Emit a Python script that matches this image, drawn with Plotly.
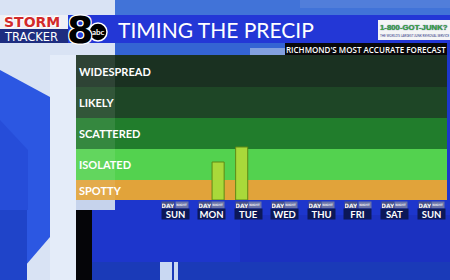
import plotly.graph_objects as go

W, H = 450, 280

# ---------------- data ----------------
days = ["SUN", "MON", "TUE", "WED", "THU", "FRI", "SAT", "SUN"]
periods = ["DAY", "NIGHT"]
band_names = ["SPOTTY", "ISOLATED", "SCATTERED", "LIKELY", "WIDESPREAD"]
band_edges = [0, 20, 51, 82, 113, 145]
band_colors = ["#e1a33a", "#53d24f", "#217d2c", "#1e4626", "#1a3121"]
bar_day_index = [1, 2]          # MON, TUE
bar_period = ["NIGHT", "DAY"]
bar_values = [38, 53]

title_text = "TIMING THE PRECIP"
tagline = "RICHMOND'S MOST ACCURATE FORECAST"

# ---------------- helpers ----------------
def px(x):
    return x / W

def py(y):
    return 1 - y / H

period_offset = {"DAY": -0.178, "NIGHT": 0.178}
bar_x = [d + period_offset[p] for d, p in zip(bar_day_index, bar_period)]

shapes = []
annotations = []

def rect(x0, y0, x1, y1, color, opacity=1.0, layer="below"):
    shapes.append(dict(type="rect", xref="paper", yref="paper",
                       x0=px(x0), x1=px(x1), y0=py(y1), y1=py(y0),
                       fillcolor=color, opacity=opacity, line=dict(width=0), layer=layer))

def poly(points, color, opacity=1.0, layer="below"):
    d = "M " + " L ".join(f"{px(x)},{py(y)}" for x, y in points) + " Z"
    shapes.append(dict(type="path", xref="paper", yref="paper", path=d,
                       fillcolor=color, opacity=opacity, line=dict(width=0), layer=layer))

def text(x, y, s, size, color, family="Lato", weight="normal", xanchor="left",
         bg=None, w=None, h=None, xref="paper", shadow=None):
    font = dict(size=size, color=color, family=family, weight=weight)
    if shadow:
        font["shadow"] = shadow
    a = dict(xref=xref, yref="paper", x=(px(x) if xref == "paper" else x), y=py(y),
             text=s, showarrow=False, xanchor=xanchor, yanchor="middle",
             font=font, borderpad=0)
    if bg:
        a["bgcolor"] = bg
    if w:
        a["width"] = w
    if h:
        a["height"] = h
    annotations.append(a)

# ---------------- background ----------------
rect(0, 0, 115, 280, "#d9e3f4")
rect(115, 0, 450, 15, "#4173d8")
rect(300, 0, 450, 8, "#5b86dc", opacity=0.6)
rect(115, 43, 290, 56, "#3464d3")
rect(250, 48, 290, 56, "#b8c8e8", opacity=0.6)
poly([(0, 70), (50, 97), (50, 237), (13, 280), (0, 280)], "#2c57e2")
poly([(0, 120), (28, 150), (28, 210), (0, 210)], "#2449d6", opacity=0.7)
rect(0, 210, 27, 280, "#1f44c9")
rect(50, 55, 76, 280, "#e4ecf9")
rect(92, 200, 450, 280, "#1d36cc")
rect(240, 215, 450, 262, "#1a2fb8", opacity=0.6)
rect(92, 262, 450, 280, "#1a3ab8")
rect(160, 262, 172, 280, "#c9d8f2")
rect(174, 262, 178, 280, "#c9d8f2")
rect(76, 200, 115, 210, "#c6d3ec")
rect(76, 210, 92, 280, "#050508")

# header bar
rect(0, 15, 450, 43, "#2337d6")
rect(0, 15, 68, 29, "#eef0f5")
rect(0, 29, 68, 43, "#1e2d80")
rect(285, 43, 447, 56, "#08080a")
rect(378, 20, 450, 40, "#f4f5f6")

# chart bands (y from data)
for lo, hi, c in zip(band_edges[:-1], band_edges[1:], band_colors):
    shapes.append(dict(type="rect", xref="paper", yref="y", x0=px(76), x1=px(447),
                       y0=lo, y1=hi, fillcolor=c, line=dict(width=0), layer="below"))
rect(76, 55, 115, 200, "#ffffff", opacity=0.09)

shapes.append(dict(type="circle", xref="paper", yref="paper",
                   x0=px(89), x1=px(107), y0=py(41), y1=py(23),
                   fillcolor="#000000", line=dict(color="#ffffff", width=1.5), layer="above"))

# ---------------- texts ----------------
text(3, 22, "STORM", 14, "#d22a2a", family="DejaVu Sans", weight="bold",
     shadow="1px 1px 0 #fff, -1px -1px 0 #fff")
text(3, 37.5, "TRACKER", 11.5, "#ffffff", family="DejaVu Sans")
text(80, 30, "8", 38, "#000000", family="DejaVu Sans", weight="bold", xanchor="center",
     shadow="1px 1px 0 #fff, -1px -1px 0 #fff, 1px -1px 0 #fff, -1px 1px 0 #fff")
text(98, 32, "abc", 8, "#ffffff", family="Lato", weight="bold", xanchor="center")
text(117, 29.5, title_text, 21, "#ffffff", family="Lato")
text(414, 28, "1-800-GOT-JUNK?", 7.8, "#3aa83a", family="Liberation Sans",
     weight="bold", xanchor="center", shadow="0 0 1px #1e2d80")
text(414, 35.5, "THE WORLD'S LARGEST JUNK REMOVAL SERVICE", 3, "#1e2d80",
     xanchor="center")
text(366, 49.5, tagline, 8, "#ffffff", family="Open Sans", weight=600, xanchor="center")

for name, lo, hi in zip(band_names, band_edges[:-1], band_edges[1:]):
    annotations.append(dict(xref="paper", yref="y", x=px(77), y=(lo + hi) / 2,
                            text=name, showarrow=False, xanchor="left", yanchor="middle",
                            font=dict(size=11, color="#ffffff", family="Lato", weight="bold")))

for i, d in enumerate(days):
    text(i + period_offset["DAY"], 204.5, "DAY", 6, "#f2f2f6", family="DejaVu Sans",
         weight="bold", xanchor="center", bg="#4a5386", w=12, h=6, xref="x")
    text(i + period_offset["NIGHT"], 204.5, "NIGHT", 3, "#e8eaf4", family="DejaVu Sans",
         weight="bold", xanchor="center", bg="#6b74a8", w=12, h=6, xref="x")
    text(i, 214, d, 9.5, "#ffffff", family="Lato", weight="bold", xanchor="center",
         bg="#0c1858", w=27, h=10, xref="x")

# ---------------- figure ----------------
fig = go.Figure(go.Bar(x=bar_x, y=bar_values, width=0.33,
                       marker=dict(color="#a9d93a", line=dict(color="#5e8a14", width=1))))

fig.update_layout(
    width=W, height=H, margin=dict(l=0, r=0, t=0, b=0),
    paper_bgcolor="#1d36cc", plot_bgcolor="rgba(0,0,0,0)",
    showlegend=False, shapes=shapes, annotations=annotations,
    xaxis=dict(domain=[px(76), px(447)], range=[-2.705, 7.432], visible=False),
    yaxis=dict(domain=[py(200), py(55)], range=[0, 145], visible=False),
)

fig.write_html("out.html")
